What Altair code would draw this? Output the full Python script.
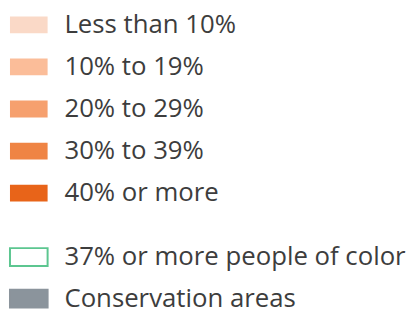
import altair as alt
import pandas as pd

# Legend group 1: share categories
share_labels = ["Less than 10%", "10% to 19%", "20% to 29%", "30% to 39%", "40% or more"]
share_colors = ["#fad9c7", "#fbbd99", "#f6a06e", "#ef8444", "#e86419"]

# Legend group 2: overlays
overlay_labels = ["37% or more people of color", "Conservation areas"]
overlay_fills = ["#ffffff", "#8b949c"]
overlay_strokes = ["#5cc690", "#8b949c"]

TEXT_COLOR = "#3d3d3d"
FONT = "Open Sans"
FONT_SIZE = 26


def legend_block(labels, fills, strokes, stroke_width, top_pad, step, band, extra):
    df = pd.DataFrame({"label": labels, "fill": fills, "stroke": strokes})
    n = len(labels)
    hi = top_pad + (n - 1) * step + band
    y = alt.Y("label:N", sort=labels, axis=None,
              scale=alt.Scale(paddingInner=1 - band / step, paddingOuter=0,
                              range=[top_pad, hi]))
    swatch = alt.Chart(df).mark_rect(strokeWidth=stroke_width).encode(
        x=alt.value(2), x2=alt.value(40), y=y,
        fill=alt.Fill("fill:N", scale=None),
        stroke=alt.Stroke("stroke:N", scale=None),
    )
    text = alt.Chart(df).mark_text(
        align="left", baseline="middle", font=FONT, fontSize=FONT_SIZE,
        color=TEXT_COLOR,
    ).encode(x=alt.value(57), y=y, text="label:N")
    return alt.layer(swatch, text).properties(width=398, height=hi + extra)


top = legend_block(share_labels, share_colors, share_colors, 0, 7, 42.5, 17, 0)
bottom = legend_block(overlay_labels, overlay_fills, overlay_strokes, 2, 0, 42, 18, 6)

chart = alt.vconcat(top, bottom, spacing=249 - 8 - 194, bounds="flush").properties(
    padding=0, background="#ffffff"
).configure_view(stroke=None)

chart.save("out.html", embed_options={"renderer": "svg", "actions": False})
